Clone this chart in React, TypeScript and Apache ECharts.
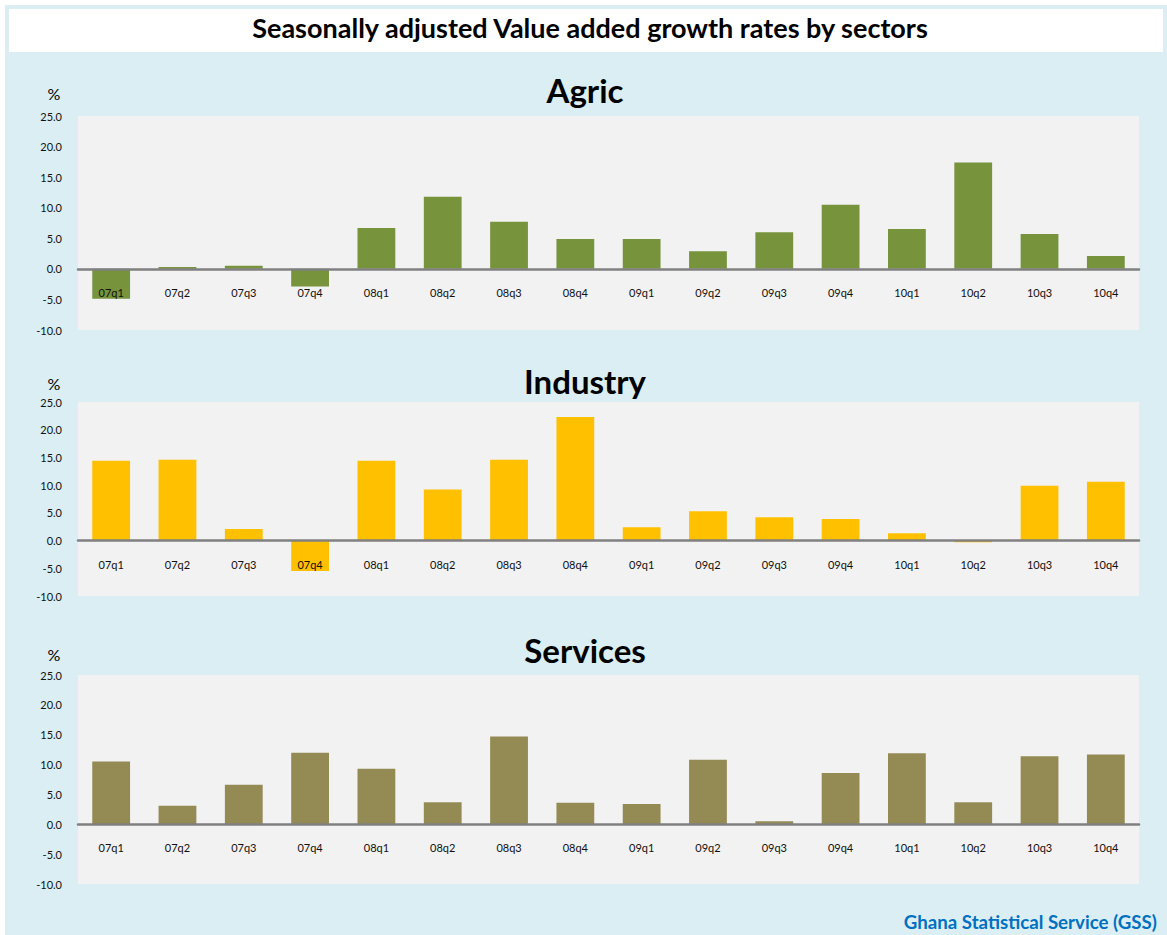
import React, { useEffect, useRef } from "react";
import * as echarts from "echarts";

const categories = ["07q1", "07q2", "07q3", "07q4", "08q1", "08q2", "08q3", "08q4", "09q1", "09q2", "09q3", "09q4", "10q1", "10q2", "10q3", "10q4"];
const agric = [-4.9, 0.3, 0.5, -2.9, 6.7, 11.8, 7.7, 4.9, 4.9, 2.9, 6.0, 10.5, 6.5, 17.4, 5.7, 2.1];
const industry = [14.4, 14.6, 2.1, -5.5, 14.4, 9.2, 14.6, 22.3, 2.4, 5.3, 4.2, 3.9, 1.3, -0.3, 9.9, 10.6];
const services = [10.5, 3.1, 6.6, 12.0, 9.3, 3.7, 14.7, 3.6, 3.4, 10.8, 0.5, 8.6, 11.9, 3.7, 11.4, 11.7];
const panelTitles = ["Agric", "Industry", "Services"];
const mainTitle = "Seasonally adjusted Value added growth rates by sectors";
const sourceText = "Ghana Statistical Service (GSS)";
const yMin = -10;
const yMax = 25;
const yInterval = 5;

const FONT = "Lato, 'Liberation Sans', sans-serif";

export default function App() {
  const ref = useRef<HTMLDivElement>(null);
  useEffect(() => {
    document.body.style.margin = "0";
    const chart = echarts.init(ref.current!, undefined, { renderer: "svg" });
    const seriesData = [agric, industry, services];
    const colors = ["#77933C", "#FFC000", "#948A54"];
    const grids = [
      { left: 78, top: 116, width: 1061, height: 214 },
      { left: 78, top: 402, width: 1061, height: 194 },
      { left: 78, top: 675, width: 1061, height: 209 },
    ];
    const titleY = [90, 381, 650];
    const pctY = [93, 383, 654];

    const graphic: any[] = [
      { type: "rect", z: -10, shape: { x: 5, y: 5, width: 1162, height: 930 }, style: { fill: "#DAEEF3" } },
      { type: "rect", z: -9, shape: { x: 9, y: 9, width: 1154, height: 43 }, style: { fill: "#FFFFFF" } },
      {
        type: "text", x: 590, y: 27, style: {
          text: mainTitle, fill: "#000", font: `bold 27px ${FONT}`, textAlign: "center", textVerticalAlign: "middle",
        },
      },
      {
        type: "text", x: 1157, y: 922, style: {
          text: sourceText, fill: "#0070C0", font: `bold 18.7px ${FONT}`, textAlign: "right", textVerticalAlign: "middle",
        },
      },
    ];
    panelTitles.forEach((t, i) => {
      graphic.push({
        type: "text", x: 585, y: titleY[i], style: {
          text: t, fill: "#000", font: `bold 33px ${FONT}`, textAlign: "center", textVerticalAlign: "middle",
        },
      });
      graphic.push({
        type: "text", x: 54, y: pctY[i], style: {
          text: "%", fill: "#000", font: `16px ${FONT}`, textAlign: "center", textVerticalAlign: "middle",
        },
      });
    });

    const option: any = {
      animation: false,
      grid: grids.map((g) => ({ ...g, show: true, backgroundColor: "#F2F2F2", borderWidth: 0, containLabel: false })),
      xAxis: grids.map((g, i) => ({
        type: "category",
        gridIndex: i,
        data: categories,
        position: "bottom",
        offset: -(g.height * (0 - yMin)) / (yMax - yMin),
        z: 5,
        axisLine: { onZero: false, lineStyle: { color: "#808080", width: 2.5 } },
        axisTick: { show: false },
        axisLabel: { color: "#111", fontSize: 11, fontFamily: FONT, margin: 18, interval: 0 },
        splitLine: { show: false },
      })),
      yAxis: grids.map((_, i) => ({
        type: "value",
        gridIndex: i,
        min: yMin,
        max: yMax,
        interval: yInterval,
        axisLine: { show: false },
        axisTick: { show: false },
        splitLine: { show: false },
        axisLabel: {
          color: "#111", fontSize: 11, fontFamily: FONT, margin: 16,
          formatter: (v: number) => v.toFixed(1),
        },
      })),
      series: seriesData.map((d, i) => ({
        type: "bar",
        xAxisIndex: i,
        yAxisIndex: i,
        data: d,
        barWidth: "57%",
        itemStyle: { color: colors[i] },
      })),
      graphic,
    };
    chart.setOption(option);
    return () => chart.dispose();
  }, []);
  return <div ref={ref} style={{ width: 1167, height: 935 }} />;
}
